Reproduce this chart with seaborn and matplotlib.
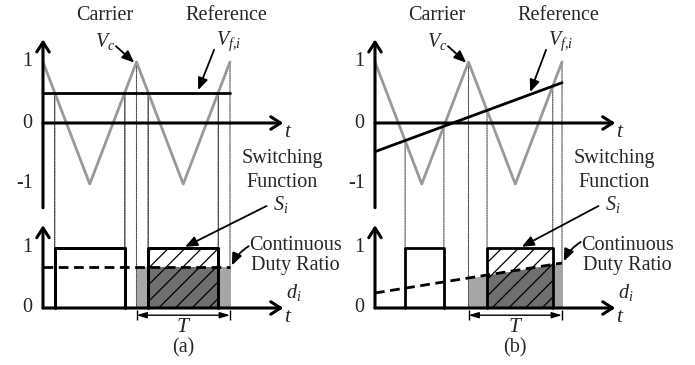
import numpy as np
import pandas as pd
import matplotlib
matplotlib.use("Agg")
import matplotlib.pyplot as plt
from matplotlib.patches import ConnectionPatch
import seaborn as sns

# Triangular carrier, time measured in switching periods T
carrier_t = [0.0, 0.5, 1.0, 1.5, 2.0]
carrier_v = [1.0, -1.0, 1.0, -1.0, 1.0]
# Reference signals: (a) constant, (b) ramping
ref_t = [0.0, 2.0]
ref_a = [0.5, 0.5]
ref_b = [-0.47, 0.66]
# Continuous duty ratio d_i
duty_a = [0.68, 0.68]
duty_b = [0.25, 0.75]
panel_labels = ["(a)", "(b)"]
top_ticks = [1, 0, -1]
bottom_ticks = [1, 0]

sns.set_theme(style="white")
plt.rcParams["font.family"] = ["Liberation Serif", "DejaVu Serif"]
plt.rcParams["mathtext.fontset"] = "custom"
plt.rcParams["mathtext.rm"] = "Liberation Serif"
plt.rcParams["mathtext.it"] = "Liberation Serif:italic"
plt.rcParams["hatch.linewidth"] = 0.9
FS = 14.5

W, H = 695, 365
fig = plt.figure(figsize=(W / 100, H / 100), dpi=100)
fig.patch.set_facecolor("white")


def make_axes(box, origin, scale):
    """Axes over a pixel box (left, top, right, bottom) with origin and px/unit scale."""
    l, t, r, b = box
    ax = fig.add_axes([l / W, 1 - b / H, (r - l) / W, (b - t) / H])
    ox, oy = origin
    sx, sy = scale
    ax.set_xlim((l - ox) / sx, (r - ox) / sx)
    ax.set_ylim((oy - b) / sy, (oy - t) / sy)
    ax.set_axis_off()
    return ax


def pulses(ref_v):
    tt = np.linspace(0, 2, 40001)
    d = np.interp(tt, ref_t, ref_v) - np.interp(tt, carrier_t, carrier_v)
    idx = np.where(np.diff(np.sign(d)) != 0)[0]
    cross = tt[idx] - d[idx] * (tt[idx + 1] - tt[idx]) / (d[idx + 1] - d[idx])
    rising = [c for c, i in zip(cross, idx) if d[i + 1] > d[i]]
    falling = [c for c, i in zip(cross, idx) if d[i + 1] < d[i]]
    return list(zip(rising, falling))


def axis_arrow(ax, start, end):
    ax.annotate("", xy=end, xytext=start,
                arrowprops=dict(arrowstyle="->,head_length=0.7,head_width=0.45",
                                lw=2.2, color="black", shrinkA=0, shrinkB=0,
                                mutation_scale=10))


def pointer(ax, tail, head, rad=0.0):
    ax.annotate("", xy=head, xytext=tail,
                arrowprops=dict(arrowstyle="-|>,head_length=0.6,head_width=0.25",
                                lw=1.3, color="black", shrinkA=0, shrinkB=0,
                                mutation_scale=12,
                                connectionstyle=f"arc3,rad={rad}"))


panels = [(0, 345, 43, ref_a, duty_a), (345, 695, 375, ref_b, duty_b)]
SX = 93.5
LIGHT, DARK, CARRIER = "#a6a6a6", "#6f6f6f", "#999999"

for k, (left, right, x0, ref_v, duty_v) in enumerate(panels):
    top = make_axes((left, 0, right, 215), (x0, 123), (SX, 61))
    bot = make_axes((left, 215, right, 365), (x0, 308), (SX, 60))

    # --- upper plot: carrier vs reference
    sns.lineplot(x=carrier_t, y=carrier_v, ax=top, color=CARRIER, lw=2,
                 estimator=None, sort=False, legend=False)
    sns.lineplot(x=ref_t, y=ref_v, ax=top, color="black", lw=2,
                 estimator=None, sort=False, legend=False)
    axis_arrow(top, (0, -1.39), (0, 1.37))
    axis_arrow(top, (0, 0), (2.57, 0))
    for v in top_ticks:
        top.text(-0.11, v, f"{v}", ha="right", va="center", fontsize=FS)
    top.text(2.62, -0.15, "$t$", ha="center", va="center", fontsize=FS + 1)

    top.text(0.66, 1.77, "Carrier", ha="center", va="center", fontsize=FS)
    top.text(1.96, 1.77, "Reference", ha="center", va="center", fontsize=FS)
    top.text(0.66, 1.34, "$V_c$", ha="center", va="center", fontsize=FS)
    top.text(1.98, 1.34, "$V_{f{,}i}$", ha="center", va="center", fontsize=FS)
    pointer(top, (0.78, 1.26), (0.975, 0.99))
    ref_at = np.interp(1.66, ref_t, ref_v)
    pointer(top, (1.83, 1.2), (1.66, ref_at + 0.04))
    top.text(2.56, -0.58, "Switching", ha="center", va="center", fontsize=FS)
    top.text(2.56, -0.97, "Function", ha="center", va="center", fontsize=FS)

    # --- lower plot: switching function and duty ratio
    pl = pulses(ref_v)
    tt = np.linspace(1.0, 2.0, 401)
    dd = np.interp(tt, ref_t, duty_v)
    bot.fill_between(tt, 0, dd, color=LIGHT, lw=0, zorder=1)
    s2, e2 = [p for p in pl if p[0] >= 1.0][0]
    tp = np.linspace(s2, e2, 201)
    bot.fill_between(tp, 0, np.interp(tp, ref_t, duty_v), color=DARK, lw=0, zorder=2)
    bot.fill_between([s2, e2], 0, 1, facecolor="none", edgecolor="black",
                     hatch="//", lw=0, zorder=3)
    for s, e in pl:
        bot.plot([s, s, e, e], [0, 1, 1, 0], color="black", lw=2, zorder=5)
    sns.lineplot(x=ref_t, y=duty_v, ax=bot, color="black", lw=2,
                 linestyle=(0, (3.5, 2)), estimator=None, sort=False,
                 legend=False, zorder=6)
    axis_arrow(bot, (0, 0), (0, 1.38))
    axis_arrow(bot, (0, 0), (2.57, 0))
    for v in bottom_ticks:
        bot.text(-0.11, v, f"{v}", ha="right", va="center", fontsize=FS)
    bot.text(2.62, -0.15, "$t$", ha="center", va="center", fontsize=FS + 1)

    # period marker
    bot.annotate("", xy=(2.0, -0.12), xytext=(1.0, -0.12),
                 arrowprops=dict(arrowstyle="<|-|>,head_length=0.6,head_width=0.18",
                                 lw=1, color="black", shrinkA=0, shrinkB=0,
                                 mutation_scale=10))
    bot.vlines([1.0, 2.0], -0.2, -0.03, color="black", lw=1)
    bot.text(1.5, -0.33, "$T$", ha="center", va="center", fontsize=FS + 1)
    bot.text(1.5, -0.66, panel_labels[k], ha="center", va="center", fontsize=FS)

    bot.text(2.54, 1.72, "$S_i$", ha="center", va="center", fontsize=FS)
    pointer(bot, (2.39, 1.70), ((s2 + e2) / 2 + 0.02, 1.02))
    bot.text(2.70, 1.05, "Continuous", ha="center", va="center", fontsize=FS)
    bot.text(2.70, 0.71, "Duty Ratio", ha="center", va="center", fontsize=FS)
    bot.text(2.68, 0.26, "$d_i$", ha="center", va="center", fontsize=FS)
    pointer(bot, (2.2, duty_v[-1] + 0.35), (2.02, duty_v[-1] + 0.03), rad=0.15)

    # dotted projections from the upper plot to the lower plot
    for s, e in pl:
        for c in (s, e):
            rv = np.interp(c, ref_t, ref_v)
            fig.add_artist(ConnectionPatch(
                xyA=(c, rv), coordsA=top.transData, xyB=(c, 1.0), coordsB=bot.transData,
                color="#444444", lw=0.8, linestyle=(0, (1, 1)), zorder=0))
    for c in (1.0, 2.0):
        fig.add_artist(ConnectionPatch(
            xyA=(c, 1.0), coordsA=top.transData, xyB=(c, 0.0), coordsB=bot.transData,
            color="#444444", lw=0.8, linestyle=(0, (1, 1)), zorder=0))

fig.savefig("out.png", dpi=100, facecolor="white")
